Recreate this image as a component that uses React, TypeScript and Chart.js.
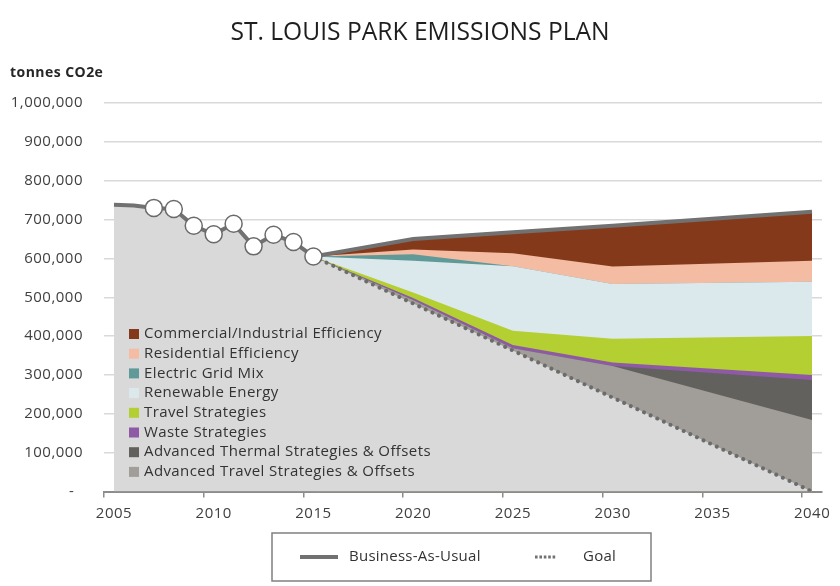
import { useEffect, useRef } from 'react';
import { Chart, registerables } from 'chart.js';

Chart.register(...registerables);

const TITLE = 'ST. LOUIS PARK EMISSIONS PLAN';
const Y_TITLE = 'tonnes CO2e';
const FONT = '"Open Sans"';

// Historical emissions (Business-As-Usual, measured)
const histYears = [2005, 2006, 2007, 2008, 2009, 2010, 2011, 2012, 2013, 2014, 2015];
const histEmissions = [738000, 736000, 730000, 727000, 684000, 662000, 689000, 631000, 661000, 642000, 605000];
const markerFrom = 2007;

// Projections
const projYears = [2015, 2020, 2025, 2030, 2040];
const bauProjection = [605000, 650000, 667000, 684000, 720000];
const goalProjection = [605000, 484000, 363000, 242000, 0];

// Reduction wedges (thickness of each layer), bottom to top
const advTravel = [0, 9000, 6000, 81000, 184000];
const advThermal = [0, 0, 0, 0, 103000];
const waste = [0, 5000, 8000, 9000, 13000];
const travel = [0, 14000, 37000, 61000, 100000];
const renewable = [0, 82000, 166000, 141000, 140000];
const gridMix = [0, 17000, 0, 0, 0];
const residential = [0, 12000, 33000, 45000, 54000];
const commercial = [0, 27000, 54000, 105000, 126000];

const layerNames = [
  'Advanced Travel Strategies & Offsets',
  'Advanced Thermal Strategies & Offsets',
  'Waste Strategies',
  'Travel Strategies',
  'Renewable Energy',
  'Electric Grid Mix',
  'Residential Efficiency',
  'Commercial/Industrial Efficiency',
];
const layerValues = [advTravel, advThermal, waste, travel, renewable, gridMix, residential, commercial];
const layerColors = ['#a19d98', '#62615e', '#8e5aa5', '#b4cf32', '#dce9ec', '#5f9a98', '#f4bca2', '#843a1a'];

const xTickYears = [2005, 2010, 2015, 2020, 2025, 2030, 2035, 2040];
const legendBAU = 'Business-As-Usual';
const legendGoal = 'Goal';

const BASE_COLOR = '#d9d9d9';
const LINE_COLOR = '#717171';
const TEXT_COLOR = '#404040';

function pts(xs: number[], ys: number[]) {
  return xs.map((x, i) => ({ x, y: ys[i] }));
}

const spacingPlugin = {
  id: 'spacing',
  beforeDraw(chart: any) {
    (chart.ctx as any).letterSpacing = '0.5px';
  },
};

const overlayPlugin = {
  id: 'overlay',
  afterDraw(chart: any) {
    const ctx = chart.ctx as any;
    const area = chart.chartArea;
    ctx.save();
    // Title
    ctx.letterSpacing = '0px';
    ctx.fillStyle = '#1e1e1e';
    ctx.font = `24.6px ${FONT}`;
    ctx.textAlign = 'center';
    ctx.textBaseline = 'middle';
    ctx.fillText(TITLE, chart.width / 2, 33);
    // Y title
    ctx.letterSpacing = '0.45px';
    ctx.fillStyle = '#262626';
    ctx.font = `bold 14px ${FONT}`;
    ctx.textAlign = 'left';
    ctx.fillText(Y_TITLE, 10, 73);

    // Inner legend
    ctx.letterSpacing = '0.4px';
    ctx.font = `15px ${FONT}`;
    const lx = area.left + 25;
    const ly = area.top + 231;
    const step = 19.7;
    for (let i = 0; i < layerNames.length; i++) {
      const idx = layerNames.length - 1 - i;
      const cy = ly + i * step;
      ctx.fillStyle = layerColors[idx];
      ctx.fillRect(lx, cy - 5, 10, 10);
      ctx.fillStyle = '#333333';
      ctx.fillText(layerNames[idx], lx + 15, cy);
    }

    // Bottom legend box
    ctx.strokeStyle = '#808080';
    ctx.lineWidth = 1.5;
    ctx.strokeRect(272, 533, 379, 48);
    const ly2 = 557;
    ctx.beginPath();
    ctx.strokeStyle = LINE_COLOR;
    ctx.lineWidth = 4;
    ctx.moveTo(300, ly2);
    ctx.lineTo(338, ly2);
    ctx.stroke();
    ctx.beginPath();
    ctx.lineWidth = 3;
    ctx.setLineDash([2.6, 1.8]);
    ctx.moveTo(535, ly2);
    ctx.lineTo(556, ly2);
    ctx.stroke();
    ctx.setLineDash([]);
    ctx.letterSpacing = '0.25px';
    ctx.fillStyle = '#333333';
    ctx.font = `15px ${FONT}`;
    ctx.fillText(legendBAU, 349, ly2);
    ctx.fillText(legendGoal, 583, ly2);
    ctx.restore();
  },
};

export default function App() {
  const ref = useRef<HTMLCanvasElement | null>(null);

  useEffect(() => {
    document.body.style.margin = '0';
    const canvas = ref.current;
    if (!canvas) return;

    // cumulative tops of the stacked wedges, starting from the goal line
    const cum: number[][] = [];
    let running = goalProjection.slice();
    for (let i = 0; i < layerValues.length; i++) {
      running = running.map((v, j) => v + layerValues[i][j]);
      cum.push(running);
    }

    const layerDatasets = layerValues.map((_, i) => ({
      type: 'line' as const,
      label: layerNames[i],
      data: pts(projYears, cum[i]),
      backgroundColor: layerColors[i],
      borderWidth: 0,
      pointRadius: 0,
      fill: 'origin',
      order: 3 + i,
    }));

    const baseYears = histYears.concat(projYears.slice(1));
    const baseValues = histEmissions.concat(goalProjection.slice(1));
    const bauValues = histEmissions.concat(bauProjection.slice(1));

    const chart = new Chart(canvas, {
      type: 'line',
      data: {
        datasets: [
          {
            label: 'BAU',
            data: pts(baseYears, bauValues),
            borderColor: LINE_COLOR,
            borderWidth: 4,
            fill: false,
            pointRadius: (c: any) => (c.raw && c.raw.x >= markerFrom && c.raw.x <= 2015 ? 8.5 : 0),
            pointBackgroundColor: '#ffffff',
            pointBorderColor: '#6a6a6a',
            pointBorderWidth: 1.5,
            order: 0,
          },
          {
            label: 'Goal',
            data: pts(projYears, goalProjection),
            borderColor: '#6c6c6c',
            borderWidth: 4,
            borderDash: [0.01, 7.3],
            borderCapStyle: 'round',
            fill: false,
            pointRadius: 0,
            order: 1,
          },
          {
            label: 'Base',
            data: pts(baseYears, baseValues),
            backgroundColor: BASE_COLOR,
            borderWidth: 0,
            pointRadius: 0,
            fill: 'origin',
            order: 2,
          },
          ...layerDatasets,
        ] as any,
      },
      options: {
        responsive: false,
        animation: false,
        devicePixelRatio: 1,
        layout: { padding: { top: 103, right: 18, bottom: 54.5, left: 0 } },
        plugins: {
          legend: { display: false },
          title: { display: false },
          tooltip: { enabled: false },
        },
        font: { family: FONT },
        scales: {
          x: {
            type: 'linear',
            min: 2004.5,
            max: 2040.5,
            afterBuildTicks: (s: any) => {
              s.ticks = xTickYears.map((y) => ({ value: y - 0.5 }));
            },
            afterFit: (s: any) => {
              s.height = 40;
            },
            ticks: {
              autoSkip: false,
              maxRotation: 0,
              labelOffset: 10,
              padding: 7,
              color: TEXT_COLOR,
              font: { family: FONT, size: 15 },
              callback: (v: any) => String(Number(v) + 0.5),
            },
            grid: { drawOnChartArea: false, drawTicks: true, tickLength: 6, color: '#8c8c8c', lineWidth: 1.5 },
            border: { display: true, color: '#8c8c8c', width: 2 },
          },
          y: {
            type: 'linear',
            min: 0,
            max: 1000000,
            afterFit: (s: any) => {
              s.width = 104;
            },
            ticks: {
              stepSize: 100000,
              padding: 21,
              color: TEXT_COLOR,
              font: { family: FONT, size: 15 },
              callback: (v: any) => (Number(v) === 0 ? '-  ' : Number(v).toLocaleString('en-US')),
            },
            grid: { color: '#d9d9d9', lineWidth: 1.5, drawTicks: false },
            border: { display: false },
          },
        },
      } as any,
      plugins: [spacingPlugin, overlayPlugin],
    });

    return () => chart.destroy();
  }, []);

  return (
    <div style={{ width: 840, height: 586, position: 'relative' }}>
      <canvas ref={ref} width={840} height={586} />
    </div>
  );
}
